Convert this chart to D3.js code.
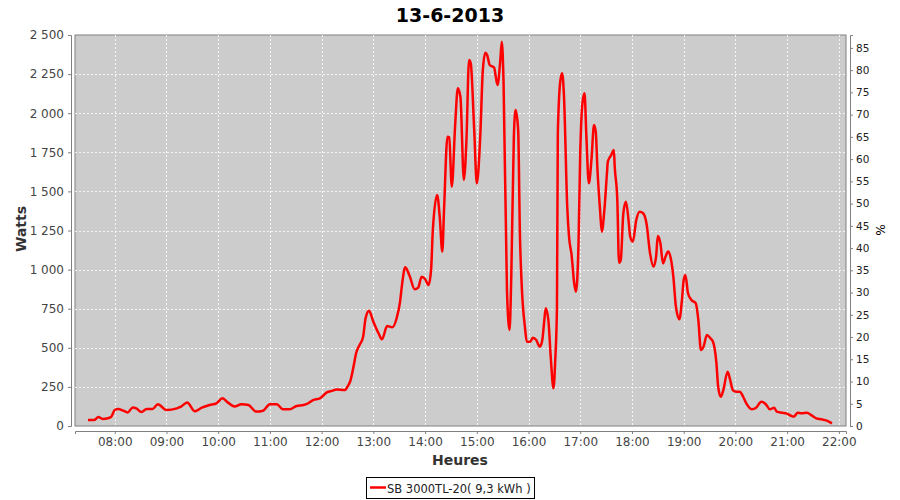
<!DOCTYPE html>
<html><head><meta charset="utf-8">
<script src="https://cdn.jsdelivr.net/npm/d3@7"></script>
<style>body{margin:0;background:#fff}svg{display:block}</style>
</head><body>
<svg id="c" width="900" height="500"></svg>
<script>
const title = "13-6-2013";
const seriesName = "SB 3000TL-20( 9,3 kWh )";
const times = ["07:29","07:36","07:41","07:46","07:52","07:56","08:00","08:04","08:10","08:15","08:21","08:25","08:31","08:37","08:44","08:50","09:00","09:12","09:17","09:24","09:33","09:41","09:50","09:58","10:05","10:11","10:19","10:27","10:35","10:44","10:52","11:00","11:08","11:15","11:23","11:31","11:39","11:43","11:50","11:58","12:06","12:13","12:17","12:27","12:31","12:33","12:37","12:40","12:44","12:48","12:51","12:55","13:00","13:06","13:10","13:16","13:22","13:27","13:31","13:33","13:37","13:42","13:48","13:52","13:56","14:00","14:04","14:07","14:09","14:14","14:17","14:20","14:22","14:26","14:28","14:31","14:35","14:38","14:41","14:45","14:48","14:51","14:53","14:57","15:00","15:04","15:07","15:10","15:12","15:15","15:20","15:24","15:27","15:29","15:31","15:35","15:38","15:40","15:43","15:45","15:48","15:50","15:52","15:56","15:58","16:02","16:05","16:09","16:13","16:16","16:18","16:20","16:23","16:26","16:29","16:31","16:33","16:34","16:37","16:39","16:41","16:45","16:47","16:50","16:53","16:55","16:58","17:00","17:03","17:05","17:07","17:10","17:13","17:16","17:18","17:20","17:23","17:25","17:28","17:31","17:32","17:36","17:39","17:40","17:43","17:45","17:47","17:50","17:53","17:56","17:58","18:01","18:05","18:09","18:13","18:17","18:21","18:25","18:28","18:30","18:33","18:36","18:39","18:42","18:45","18:48","18:51","18:55","18:58","19:00","19:02","19:05","19:09","19:14","19:17","19:20","19:23","19:27","19:31","19:34","19:38","19:40","19:43","19:46","19:51","19:54","19:57","20:01","20:05","20:09","20:13","20:19","20:24","20:30","20:35","20:40","20:45","20:48","20:54","20:59","21:05","21:08","21:12","21:17","21:23","21:28","21:34","21:40","21:46","21:52"];
const watts = [38,38,57,45,49,60,102,109,98,87,119,113,90,109,109,139,102,113,124,151,94,117,134,145,177,151,124,139,134,92,98,139,139,107,107,128,134,141,166,177,215,226,234,230,262,283,379,465,518,567,689,737,667,593,554,639,631,689,795,891,1015,960,874,885,955,940,901,1000,1253,1477,1338,1115,1381,1850,1845,1530,1935,2159,2105,1573,1829,2340,2319,1893,1551,1850,2276,2387,2372,2308,2293,2180,2319,2457,2212,870,614,955,1850,2020,1893,1232,912,625,539,539,565,550,507,550,657,753,678,422,241,422,763,1867,2212,2255,2127,1392,1210,1093,912,859,1168,1744,2085,2127,1871,1552,1701,1925,1882,1637,1381,1242,1381,1616,1690,1733,1765,1658,1445,1044,1061,1360,1434,1317,1210,1178,1317,1370,1360,1290,1104,1019,1083,1215,1168,1040,1083,1115,1072,955,763,682,806,934,966,849,806,785,678,486,507,582,561,539,401,251,187,230,347,294,230,219,219,187,141,107,117,155,141,107,117,92,85,81,64,60,85,81,85,70,49,43,34,17];
const xDomain = ["07:13:54","22:08:18"];
const leftDomain = [0, 2500];
const leftTicks = [0,250,500,750,1000,1250,1500,1750,2000,2250,2500];
const rightDomain = [0, 87.9];
const rightTicks = [0,5,10,15,20,25,30,35,40,45,50,55,60,65,70,75,80,85];

const svg = d3.select("#c");
const P = {l:75, r:846, t:35, b:426};
const parseHM = d3.timeParse("%H:%M");
const parseHMS = d3.timeParse("%H:%M:%S");
const x = d3.scaleTime().domain(xDomain.map(parseHMS)).range([P.l, P.r]);
const y = d3.scaleLinear().domain(leftDomain).range([P.b, P.t]);
const y2 = d3.scaleLinear().domain(rightDomain).range([P.b, P.t]);
const loc = d3.formatLocale({decimal:",", thousands:" ", grouping:[3], currency:["","€"]});
const fmt = loc.format(",d");
const FF = "DejaVu Sans, sans-serif";

// title
svg.append("text").attr("x",450).attr("y",22).attr("text-anchor","middle")
  .attr("font-family",FF).attr("font-weight","bold").attr("font-size",19)
  .attr("fill","#000").text(title);

// plot bg
svg.append("rect").attr("x",P.l).attr("y",P.t).attr("width",P.r-P.l).attr("height",P.b-P.t)
  .attr("fill","#cccccc").attr("stroke","#808080").attr("stroke-width",1);

// grid
const xt = x.ticks(d3.timeHour.every(1));
svg.append("g").selectAll("line").data(xt).join("line")
  .attr("x1",d=>Math.round(x(d))+0.5).attr("x2",d=>Math.round(x(d))+0.5)
  .attr("y1",P.t).attr("y2",P.b).attr("stroke","#fff").attr("stroke-width",0.8).attr("stroke-dasharray","2,2");
svg.append("g").selectAll("line").data(leftTicks.slice(1,-1)).join("line")
  .attr("y1",d=>Math.round(y(d))+0.5).attr("y2",d=>Math.round(y(d))+0.5)
  .attr("x1",P.l).attr("x2",P.r).attr("stroke","#fff").attr("stroke-width",0.8).attr("stroke-dasharray","2,2");

// axes
const axisStyle = (g, color, size) => {
  g.select(".domain").attr("stroke","#808080");
  g.selectAll(".tick line").attr("stroke","#808080");
  g.selectAll(".tick text").attr("fill",color).attr("font-size",size).attr("font-family",FF);
};
const gL = svg.append("g").attr("transform",`translate(${P.l-4},0)`)
  .call(d3.axisLeft(y).tickValues(leftTicks).tickFormat(fmt).tickSizeOuter(0).tickSize(3).tickPadding(4));
axisStyle(gL,"#444",12);
const gB = svg.append("g").attr("transform",`translate(0,${P.b+5})`)
  .call(d3.axisBottom(x).ticks(d3.timeHour.every(1)).tickFormat(d3.timeFormat("%H:%M")).tickSizeOuter(0).tickSize(3).tickPadding(3));
axisStyle(gB,"#444",12);
const gR = svg.append("g").attr("transform",`translate(${P.r+4},0)`)
  .call(d3.axisRight(y2).tickValues(rightTicks).tickSizeOuter(0).tickSize(3).tickPadding(3));
axisStyle(gR,"#222",10.5);

// axis labels
svg.append("text").attr("transform","translate(26,229) rotate(-90)").attr("text-anchor","middle")
  .attr("font-family",FF).attr("font-weight","bold").attr("font-size",14).attr("fill","#333").text("Watts");
svg.append("text").attr("x",460).attr("y",465).attr("text-anchor","middle")
  .attr("font-family",FF).attr("font-weight","bold").attr("font-size",14).attr("fill","#333").text("Heures");
svg.append("text").attr("transform","translate(876,230) rotate(90)").attr("text-anchor","middle")
  .attr("font-family",FF).attr("font-size",12).attr("fill","#000").text("%");

// line
const data = times.map((t,i)=>({t:parseHM(t), v:watts[i]}));
svg.append("clipPath").attr("id","pc").append("rect")
  .attr("x",P.l).attr("y",P.t).attr("width",P.r-P.l).attr("height",P.b-P.t);
svg.append("path").datum(data).attr("clip-path","url(#pc)")
  .attr("d", d3.line().x(d=>x(d.t)).y(d=>y(d.v)).curve(d3.curveMonotoneX))
  .attr("fill","none").attr("stroke","#ff0000").attr("stroke-width",2.5).attr("stroke-linejoin","round");

// legend
const lg = svg.append("g");
lg.append("rect").attr("x",366.5).attr("y",477.5).attr("width",168).attr("height",21)
  .attr("fill","#fff").attr("stroke","#000");
lg.append("text").attr("x",387).attr("y",492.5)
  .attr("font-family",FF).attr("font-size",11.5).attr("fill","#222").text(seriesName);
lg.append("line").attr("x1",370).attr("x2",386).attr("y1",487.5).attr("y2",487.5).attr("stroke","#ff0000").attr("stroke-width",2.5);
</script>
</body></html>
